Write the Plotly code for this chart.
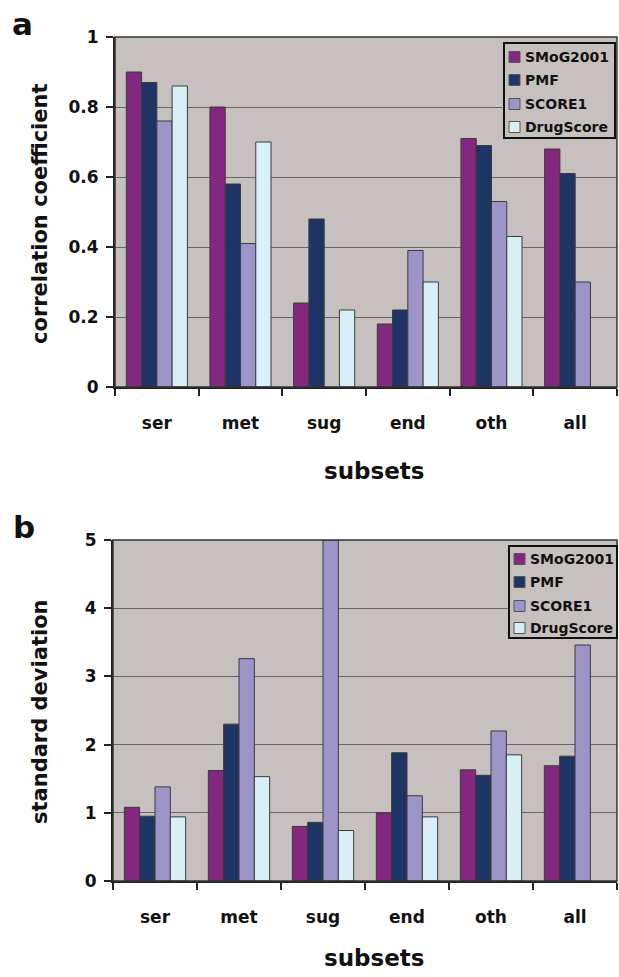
import plotly.graph_objects as go

# Subsets and scoring functions
subsets = ["ser", "met", "sug", "end", "oth", "all"]
functions = ["SMoG2001", "PMF", "SCORE1", "DrugScore"]

# (a) correlation coefficients per subset (None = no bar)
corr_smog = [0.90, 0.80, 0.24, 0.18, 0.71, 0.68]
corr_pmf = [0.87, 0.58, 0.48, 0.22, 0.69, 0.61]
corr_score1 = [0.76, 0.41, None, 0.39, 0.53, 0.30]
corr_drug = [0.86, 0.70, 0.22, 0.30, 0.43, None]

# (b) standard deviations per subset
sd_smog = [1.08, 1.62, 0.80, 1.00, 1.63, 1.69]
sd_pmf = [0.95, 2.30, 0.86, 1.88, 1.55, 1.83]
sd_score1 = [1.38, 3.26, 5.00, 1.25, 2.20, 3.46]
sd_drug = [0.94, 1.53, 0.74, 0.94, 1.85, None]

colors = ["#84277f", "#1f3464", "#9d94c8", "#d8eff8"]
BG = "#c6c1be"
GRID = "#666666"
FONT = "DejaVu Sans"
INK = "#111"

W, H = 619, 977


def px_x(p):
    return p / W


def px_y(p):
    return 1 - p / H


fig = go.Figure()

panel_a = [corr_smog, corr_pmf, corr_score1, corr_drug]
panel_b = [sd_smog, sd_pmf, sd_score1, sd_drug]

for (xa, ya), panel in [(("x", "y"), panel_a), (("x2", "y2"), panel_b)]:
    for name, col, vals in zip(functions, colors, panel):
        fig.add_trace(go.Bar(
            x=subsets, y=vals, name=name, marker_color=col,
            marker_line=dict(color="#3a3a3a", width=1),
            xaxis=xa, yaxis=ya, showlegend=False,
        ))

xcommon = dict(
    type="category", showgrid=False, ticks="outside", tickson="boundaries",
    ticklen=7, tickwidth=2, tickcolor="#222", showline=True, linecolor="#222",
    linewidth=2, ticklabelstandoff=20,
    tickfont=dict(family=FONT, size=17, color=INK, weight="bold"),
    zeroline=False,
)
ycommon = dict(
    showgrid=True, gridcolor=GRID, gridwidth=1, ticks="outside", ticklen=7,
    tickwidth=2, tickcolor="#222", showline=True, linecolor="#222",
    linewidth=2, ticklabelstandoff=4,
    tickfont=dict(family=FONT, size=17, color=INK, weight="bold"),
    zeroline=False,
)

fig.update_layout(
    width=W, height=H,
    margin=dict(l=0, r=0, t=0, b=0, autoexpand=False),
    paper_bgcolor="white", plot_bgcolor=BG,
    barmode="group", bargap=0.27, bargroupgap=0,
    xaxis=dict(domain=[px_x(115), px_x(617)], anchor="y", **xcommon),
    yaxis=dict(domain=[px_y(387), px_y(37)], anchor="x", range=[0, 1],
               tickvals=[0, 0.2, 0.4, 0.6, 0.8, 1], **ycommon),
    xaxis2=dict(domain=[px_x(113), px_x(617)], anchor="y2", **xcommon),
    yaxis2=dict(domain=[px_y(881), px_y(540)], anchor="x2", range=[0, 5],
                tickvals=[0, 1, 2, 3, 4, 5], **ycommon),
    showlegend=False,
)

# Frame lines around each plot area
for xd, yd in [((115, 617), (37, 387)), ((113, 617), (540, 881))]:
    fig.add_shape(type="rect", xref="paper", yref="paper",
                  x0=px_x(xd[0]), x1=px_x(xd[1]), y0=px_y(yd[1]), y1=px_y(yd[0]),
                  line=dict(color="#333", width=1.5), layer="above")


def draw_legend(box, rows_y, sq_x, text_x):
    """Boxed key with a colour swatch and a label per scoring function."""
    x0, y0, x1, y1 = box
    fig.add_shape(type="rect", xref="paper", yref="paper",
                  x0=px_x(x0), x1=px_x(x1), y0=px_y(y1), y1=px_y(y0),
                  fillcolor=BG, line=dict(color=INK, width=2), layer="above")
    for name, col, yc in zip(functions, colors, rows_y):
        fig.add_shape(type="rect", xref="paper", yref="paper",
                      x0=px_x(sq_x), x1=px_x(sq_x + 11),
                      y0=px_y(yc + 5.5), y1=px_y(yc - 5.5),
                      fillcolor=col, line=dict(color="#555", width=1), layer="above")
        fig.add_annotation(xref="paper", yref="paper", showarrow=False,
                           x=px_x(text_x), y=px_y(yc), xanchor="left", yanchor="middle",
                           text=name,
                           font=dict(family=FONT, size=14, color=INK, weight="bold"))


draw_legend((504, 43, 615, 138), [57, 80, 104, 127], 509, 523)
draw_legend((509, 546, 617, 638), [559, 582, 606, 628], 514, 528)

ytitle_font = dict(family=FONT, size=21, color=INK, weight="bold")
xtitle_font = dict(family=FONT, size=23, color=INK, weight="bold")
letter_font = dict(family=FONT, size=31, color=INK, weight="bold")
annotations = [
    dict(text="a", x=px_x(22), y=px_y(24), font=letter_font),
    dict(text="b", x=px_x(24), y=px_y(527), font=letter_font),
    dict(text="correlation coefficient", x=px_x(40), y=px_y(214), textangle=-90, font=ytitle_font),
    dict(text="standard deviation", x=px_x(40), y=px_y(712), textangle=-90, font=ytitle_font),
    dict(text="subsets", x=px_x(374), y=px_y(471), font=xtitle_font),
    dict(text="subsets", x=px_x(374), y=px_y(958), font=xtitle_font),
]
for a in annotations:
    fig.add_annotation(xref="paper", yref="paper", showarrow=False,
                       xanchor="center", yanchor="middle", **a)

fig.write_html("out.html")
